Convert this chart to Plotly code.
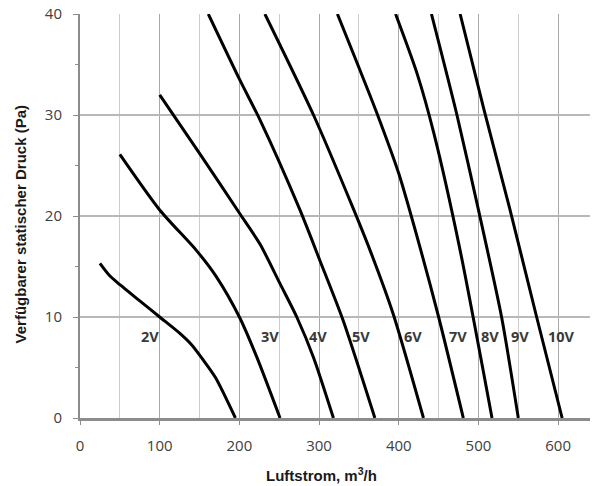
import plotly.graph_objects as go

# ---- data ----
speeds = ["2V", "3V", "4V", "5V", "6V", "7V", "8V", "9V", "10V"]

flow_2v = [25, 37, 50, 75, 100, 125, 140, 155, 170, 195]
pres_2v = [15.3, 14.1, 13.2, 11.6, 10.0, 8.4, 7.25, 5.7, 4.0, 0]

flow_3v = [50, 100, 146, 171, 200, 222, 251]
pres_3v = [26.1, 20.6, 16.6, 14.0, 10.0, 6.0, 0]

flow_4v = [100, 150, 200, 226, 251, 272, 293, 318]
pres_4v = [32.0, 26.2, 20.3, 17.2, 13.3, 10.0, 6.0, 0]

flow_5v = [161, 201, 226, 276, 301, 330, 370]
pres_5v = [40, 33.4, 29.5, 20.6, 15.6, 9.7, 0]

flow_6v = [232, 293, 341, 364, 393, 431]
pres_6v = [40, 30.0, 21.1, 16.6, 10.3, 0]

flow_7v = [323, 350, 372, 400, 427, 450, 481]
pres_7v = [40, 34.7, 30.3, 24.2, 16.8, 10.0, 0]

flow_8v = [396, 423, 444, 477, 517]
pres_8v = [40, 34.1, 28.2, 16.6, 0]

flow_9v = [441, 473, 500, 529, 550]
pres_9v = [40, 30.0, 20.6, 10.0, 0]

flow_10v = [477, 507, 539, 573, 605]
pres_10v = [40, 30.5, 20.8, 10.0, 0]

label_x = [88, 238, 299, 353, 418, 474, 514, 552, 604]
label_y = [8.1] * 9

x_ticks = [0, 100, 200, 300, 400, 500, 600]
y_ticks = [0, 10, 20, 30, 40]

series = [
    (flow_2v, pres_2v), (flow_3v, pres_3v), (flow_4v, pres_4v),
    (flow_5v, pres_5v), (flow_6v, pres_6v), (flow_7v, pres_7v),
    (flow_8v, pres_8v), (flow_9v, pres_9v), (flow_10v, pres_10v),
]

fig = go.Figure()
for name, (xs, ys) in zip(speeds, series):
    fig.add_trace(go.Scatter(
        x=xs, y=ys, mode="lines", name=name,
        line=dict(color="black", width=3, shape="spline", smoothing=0.7),
        showlegend=False, hoverinfo="skip",
    ))

for name, lx, ly in zip(speeds, label_x, label_y):
    fig.add_annotation(x=lx, y=ly, xref="x", yref="y", text=f"<b>{name}</b>",
                       showarrow=False, xanchor="center", yanchor="middle",
                       font=dict(family="Open Sans", size=14.5, color="#3a3a3a"))

fig.add_annotation(x=0.466, y=-0.1395, xref="paper", yref="paper",
                   text="<b>Luftstrom, m<sup>3</sup>/h</b>", showarrow=False,
                   xanchor="center", yanchor="middle",
                   font=dict(family="Liberation Sans", size=15, color="#1a1a1a"))
fig.add_annotation(x=-0.114, y=0.479, xref="paper", yref="paper",
                   text="<b>Verfügbarer statischer Druck (Pa)</b>", showarrow=False,
                   textangle=-90, xanchor="center", yanchor="middle",
                   font=dict(family="Liberation Sans", size=15, color="#1a1a1a"))

# page body has an 8px default margin, so the figure is sized/offset to compensate
fig.update_layout(
    width=590, height=478,
    margin=dict(l=72, r=0, t=6, b=68, autoexpand=False),
    paper_bgcolor="white", plot_bgcolor="white",
    font=dict(family="Open Sans", size=15, color="#404040"),
)
fig.update_xaxes(
    range=[0, 650], tickvals=x_ticks, automargin=False,
    showgrid=True, gridcolor="#a8a8a8", gridwidth=1,
    minor=dict(dtick=50, showgrid=True, gridcolor="#cccccc", gridwidth=1, ticks=""),
    showline=True, linecolor="#8c8c8c", linewidth=2.5,
    ticks="outside", ticklen=4, tickcolor="#8c8c8c", tickwidth=1,
    ticklabelstandoff=8, zeroline=False, ticklabeloverflow="allow",
)
fig.update_yaxes(
    range=[0, 40], tickvals=y_ticks, automargin=False,
    showgrid=True, gridcolor="#b8b8b8", gridwidth=1.5,
    minor=dict(dtick=5, showgrid=False, ticks="outside", ticklen=3, tickcolor="#8c8c8c"),
    showline=True, linecolor="#8c8c8c", linewidth=2,
    ticks="outside", ticklen=5, tickcolor="#8c8c8c", tickwidth=1,
    ticklabelstandoff=8, zeroline=False, ticklabeloverflow="allow",
)

fig.write_html("out.html")
